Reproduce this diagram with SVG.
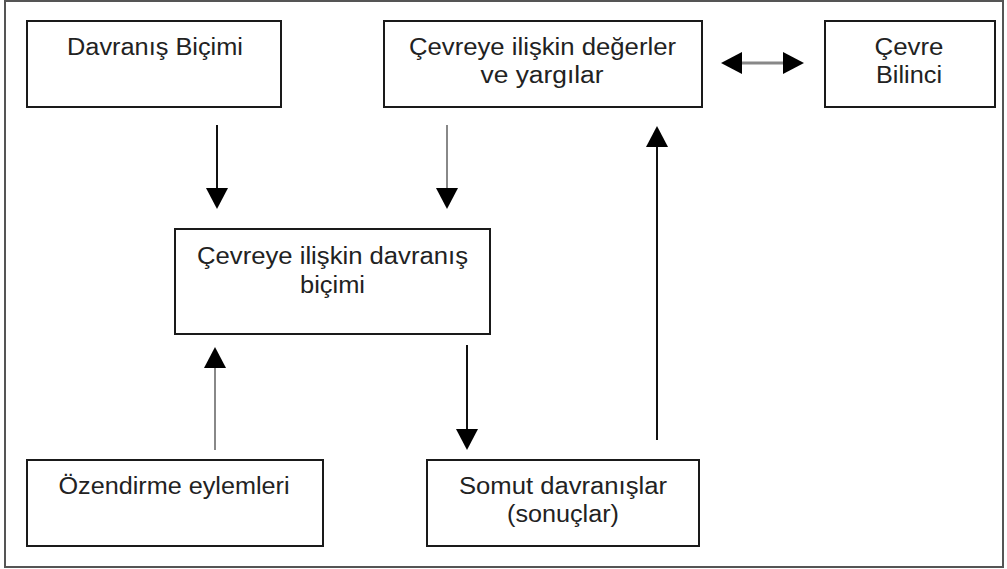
<svg xmlns="http://www.w3.org/2000/svg" width="1007" height="569" viewBox="0 0 1007 569">
<style>
.frame{fill:#fff;stroke:#555;stroke-width:2}
.box{fill:#fff;stroke:#1a1a1a;stroke-width:2}
.t{font-family:"Liberation Sans",Arial,sans-serif;font-size:23px;fill:#222;text-anchor:middle}
.dark{stroke:#111;stroke-width:2;fill:none}
.gray{stroke:#888;stroke-width:2;fill:none}
.gray3{stroke:#888;stroke-width:3;fill:none}
</style>
<defs>
<marker id="ah" viewBox="0 0 21 22" refX="11" refY="11" markerWidth="21" markerHeight="22" markerUnits="userSpaceOnUse" orient="auto-start-reverse">
<path d="M0,0 L21,11 L0,22 z" fill="#000"/>
</marker>
</defs>
<rect class="frame" x="5" y="1" width="998" height="566"/>
<g id="n-davranis-bicimi">
<rect class="box" x="27" y="21" width="254" height="86"/>
<text class="t" x="155" y="55" textLength="176" lengthAdjust="spacingAndGlyphs">Davranış Biçimi</text>
</g>
<g id="n-degerler">
<rect class="box" x="384" y="21" width="318" height="86"/>
<text class="t" x="542.5" y="55" textLength="267" lengthAdjust="spacingAndGlyphs">Çevreye ilişkin değerler</text>
<text class="t" x="542" y="83" textLength="123" lengthAdjust="spacingAndGlyphs">ve yargılar</text>
</g>
<g id="n-cevre-bilinci">
<rect class="box" x="825" y="21" width="170" height="86"/>
<text class="t" x="909" y="55" textLength="69" lengthAdjust="spacingAndGlyphs">Çevre</text>
<text class="t" x="909" y="83" textLength="66" lengthAdjust="spacingAndGlyphs">Bilinci</text>
</g>
<g id="n-davranis-bicimi-cevre">
<rect class="box" x="175" y="229" width="315" height="105"/>
<text class="t" x="332.5" y="264" textLength="271" lengthAdjust="spacingAndGlyphs">Çevreye ilişkin davranış</text>
<text class="t" x="332.5" y="293" textLength="65" lengthAdjust="spacingAndGlyphs">biçimi</text>
</g>
<g id="n-ozendirme">
<rect class="box" x="27" y="460" width="296" height="86"/>
<text class="t" x="174" y="494" textLength="231" lengthAdjust="spacingAndGlyphs">Özendirme eylemleri</text>
</g>
<g id="n-somut">
<rect class="box" x="427" y="460" width="272" height="86"/>
<text class="t" x="563" y="494" textLength="208" lengthAdjust="spacingAndGlyphs">Somut davranışlar</text>
<text class="t" x="563" y="522" textLength="112" lengthAdjust="spacingAndGlyphs">(sonuçlar)</text>
</g>
<g id="connectors">
<line class="dark" x1="217" y1="125" x2="217" y2="199" marker-end="url(#ah)"/>
<line class="gray" x1="447" y1="125" x2="447" y2="199" marker-end="url(#ah)"/>
<line class="gray" x1="215" y1="450" x2="215" y2="357" marker-end="url(#ah)"/>
<line class="dark" x1="467" y1="345" x2="467" y2="440" marker-end="url(#ah)"/>
<line class="dark" x1="657" y1="440" x2="657" y2="136" marker-end="url(#ah)"/>
<line class="gray3" x1="731" y1="63" x2="794" y2="63" marker-start="url(#ah)" marker-end="url(#ah)"/>
</g>
</svg>
